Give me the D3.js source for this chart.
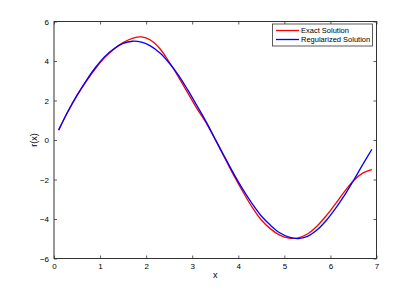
<!DOCTYPE html>
<html>
<head>
<meta charset="utf-8">
<script src="https://cdn.jsdelivr.net/npm/d3@7"></script>
<style>
  body { margin: 0; background: #fff; }
  svg { display: block; font-family: "Liberation Sans", Arial, sans-serif; }
</style>
</head>
<body>
<div id="chart"></div>
<script>
// sample positions along x
const xValues = [0.1, 0.3, 0.5, 0.7, 0.9, 1.1, 1.3, 1.5, 1.7, 1.9, 2.1, 2.3, 2.5, 2.7, 2.9, 3.1, 3.3, 3.5,
  3.7, 3.9, 4.1, 4.3, 4.5, 4.7, 4.9, 5.1, 5.3, 5.5, 5.7, 5.9, 6.1, 6.3, 6.5, 6.7, 6.9];
// exact solution (red)
const exactValues = [0.5, 1.42, 2.24, 2.97, 3.62, 4.17, 4.6, 4.93, 5.15, 5.22, 5.05, 4.62, 3.95, 3.2, 2.4, 1.6, 0.88, 0.02,
  -0.88, -1.78, -2.62, -3.4, -4.05, -4.5, -4.82, -4.97, -4.95, -4.76, -4.38, -3.86, -3.26, -2.63, -2.06, -1.68, -1.5];
// regularized solution (blue)
const regValues = [0.5, 1.44, 2.27, 3.01, 3.67, 4.22, 4.62, 4.89, 5.0, 4.95, 4.75, 4.4, 3.9, 3.29, 2.55, 1.75, 0.93, 0.04,
  -0.84, -1.7, -2.5, -3.22, -3.85, -4.32, -4.7, -4.92, -4.99, -4.88, -4.57, -4.1, -3.5, -2.82, -2.05, -1.25, -0.47];
const xTicks = [0, 1, 2, 3, 4, 5, 6, 7];
const yTicks = [-6, -4, -2, 0, 2, 4, 6];
const seriesNames = ["Exact Solution", "Regularized Solution"];
const seriesColors = ["#ff0000", "#0000ff"];

const width = 415, height = 291;
const plotLeft = 54, plotRight = 376.5, plotTop = 21.5, plotBottom = 258.5;

const svg = d3.select("#chart").append("svg")
  .attr("width", width)
  .attr("height", height);

const x = d3.scaleLinear().domain([0, 7]).range([plotLeft, plotRight]);
const y = d3.scaleLinear().domain([-6, 6]).range([plotBottom, plotTop]);

const axisColor = "#333";
const tickLen = 3;
const intFormat = d3.format("d");

// ticks on all four sides, pointing inward
const xAxisBottom = d3.axisBottom(x).tickValues(xTicks).tickFormat(intFormat).tickSizeInner(-tickLen).tickSizeOuter(0).tickPadding(5);
const xAxisTop = d3.axisTop(x).tickValues(xTicks).tickSizeInner(-tickLen).tickSizeOuter(0).tickFormat("");
const yAxisLeft = d3.axisLeft(y).tickValues(yTicks).tickFormat(intFormat).tickSizeInner(-tickLen).tickSizeOuter(0).tickPadding(5);
const yAxisRight = d3.axisRight(y).tickValues(yTicks).tickSizeInner(-tickLen).tickSizeOuter(0).tickFormat("");

function styleAxis(g){
  g.select(".domain").remove();
  g.selectAll(".tick line").attr("stroke", axisColor).attr("stroke-width", 0.8);
  g.selectAll(".tick text").attr("fill", "#000").attr("font-size", "8px")
    .attr("font-family", "Liberation Sans, Arial, sans-serif");
}

svg.append("g").attr("transform", `translate(0,${plotBottom})`).call(xAxisBottom).call(styleAxis);
svg.append("g").attr("transform", `translate(0,${plotTop})`).call(xAxisTop).call(styleAxis);
svg.append("g").attr("transform", `translate(${plotLeft},0)`).call(yAxisLeft).call(styleAxis);
svg.append("g").attr("transform", `translate(${plotRight},0)`).call(yAxisRight).call(styleAxis);

// box
svg.append("rect")
  .attr("x", plotLeft).attr("y", plotTop)
  .attr("width", plotRight - plotLeft).attr("height", plotBottom - plotTop)
  .attr("fill", "none").attr("stroke", axisColor).attr("stroke-width", 1);

// curves
const line = d3.line()
  .x(d => x(d[0]))
  .y(d => y(d[1]))
  .curve(d3.curveCatmullRom);

[exactValues, regValues].forEach((vals, i) => {
  svg.append("path")
    .datum(xValues.map((xv, j) => [xv, vals[j]]))
    .attr("d", line)
    .attr("fill", "none")
    .attr("stroke", seriesColors[i])
    .attr("stroke-width", 1.3);
});

// axis labels
svg.append("text")
  .attr("x", (plotLeft + plotRight) / 2).attr("y", 278)
  .attr("text-anchor", "middle")
  .attr("font-size", "9px")
  .text("x");

svg.append("text")
  .attr("transform", `translate(37,${(plotTop + plotBottom) / 2}) rotate(-90)`)
  .attr("text-anchor", "middle")
  .attr("font-size", "9px")
  .text("r(x)");

// legend
const legend = svg.append("g");
legend.append("rect")
  .attr("x", 272.5).attr("y", 24)
  .attr("width", 100).attr("height", 22)
  .attr("fill", "#fff").attr("stroke", axisColor).attr("stroke-width", 0.8);

seriesNames.forEach((name, i) => {
  const ly = 30.5 + i * 9;
  legend.append("line")
    .attr("x1", 276).attr("x2", 299)
    .attr("y1", ly).attr("y2", ly)
    .attr("stroke", seriesColors[i]).attr("stroke-width", 1.3);
  legend.append("text")
    .attr("x", 301).attr("y", ly + 2.7)
    .attr("font-size", "7.5px")
    .text(name);
});
</script>
</body>
</html>
